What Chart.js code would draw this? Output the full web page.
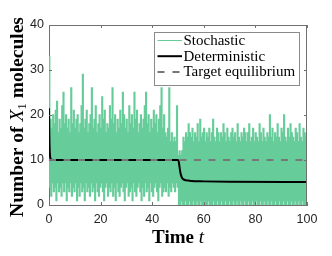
<!DOCTYPE html>
<html><head><meta charset="utf-8">
<script src="https://cdn.jsdelivr.net/npm/chart.js@4/dist/chart.umd.min.js"></script>
<style>html,body{margin:0;padding:0;background:#fff;}#wrap{width:332px;height:256px;position:relative;}</style>
</head><body><div id="wrap"><canvas id="c" width="332" height="256"></canvas></div>
<script>
// ---- data ----
const dtStoch = 0.25;
const stochFirstHalf = [
33,4, 19,2, 17,5, 20,3, 18,4, 21,1, 23,5, 16,3, 19,4, 17,2,
22,5, 25,3, 18,5, 20,1, 17,4, 19,3, 16,5, 26,2, 18,4, 21,3,
17,5, 19,1, 20,4, 16,2, 18,5, 22,3, 29,4, 17,1, 19,5, 21,3,
16,4, 18,2, 20,5, 26,3, 17,4, 19,1, 22,5, 16,3, 18,2, 20,4,
17,5, 24,3, 19,1, 21,4, 16,5, 18,2, 17,4, 22,3, 19,5, 26,2,
18,4, 20,1, 16,5, 19,3, 17,2, 21,4, 18,5, 25,3, 20,1, 17,4,
19,5, 16,2, 22,3, 18,4, 20,1, 17,5, 25,3, 19,2, 21,4, 16,5,
18,3, 20,1, 17,4, 19,2, 22,5, 25,3, 18,4, 20,1, 16,5, 19,3,
17,2, 21,4, 18,5, 20,3, 16,1, 19,4, 22,5, 26,2, 17,3, 20,4,
16,3, 15,5, 17,2, 26,4, 14,3, 16,5, 14,4, 15,3, 14,5, 22,4
];
const stochSecondHalf = [
11,0, 12,0, 11,1, 12,0, 15,0, 14,1, 16,0, 15,0, 18,1, 16,0,
15,0, 17,1, 14,0, 16,0, 15,1, 18,0, 14,0, 19,1, 15,0, 16,0,
17,1, 14,0, 16,0, 15,1, 17,0, 14,0, 16,0, 19,1, 15,0, 14,0,
17,1, 16,0, 14,0, 16,1, 15,0, 18,0, 16,1, 14,0, 17,0, 15,1,
14,0, 16,0, 17,1, 15,0, 16,0, 14,1, 18,0, 15,0, 14,1, 16,0,
15,0, 17,1, 16,0, 14,0, 16,1, 18,0, 14,0, 15,1, 17,0, 14,0,
16,1, 15,0, 14,0, 18,1, 16,0, 14,0, 17,1, 15,0, 14,0, 16,1,
15,0, 20,0, 15,1, 17,0, 14,0, 16,1, 15,0, 18,0, 15,1, 14,0,
17,0, 16,1, 20,0, 15,0, 14,1, 17,0, 15,0, 18,1, 16,0, 15,0,
14,1, 17,0, 16,0, 14,1, 18,0, 15,0, 14,1, 17,0, 16,0, 15,1,
6
];
const detTimes  = [0,0.1,0.2,0.35,0.6,1,2,50,50.3,50.6,51,51.5,52,53,55,60,70,100];
const detValues = [21.5,17,13.5,11.2,10.3,10.05,10,10,9.6,8.4,7.0,6.1,5.75,5.5,5.35,5.25,5.15,5.1];
const targetTimes  = [0,100];
const targetValues = [10,10];
const xTickValues = [0,20,40,60,80,100];
const yTickValues = [0,10,20,30,40];
const seriesLabels = ['Stochastic','Deterministic','Target equilibrium'];

// ---- build ----
const stochAll = stochFirstHalf.concat(stochSecondHalf);
const stochPts = stochAll.map((v,i)=>({x:i*dtStoch,y:v}));
const detPts = detTimes.map((t,i)=>({x:t,y:detValues[i]}));
const tgtPts = targetTimes.map((t,i)=>({x:t,y:targetValues[i]}));

const GREEN='rgb(102,204,153)', GRAY='#777777', AXIS='#707070';
const tickFont={family:"'Liberation Sans', Arial, sans-serif", size:12.5};
const serif="'Liberation Serif', 'Times New Roman', serif";

function drawRich(ctx, parts, x, y, align){
  let total=0;
  parts.forEach(p=>{ctx.font=p.f; p.w=ctx.measureText(p.t).width; total+=p.w;});
  let cx = align==='center'? x-total/2 : x;
  parts.forEach(p=>{ctx.font=p.f; ctx.fillText(p.t, cx, y+(p.dy||0)); cx+=p.w;});
}

const framePlugin = {
  id:'frame',
  afterDatasetsDraw(chart){
    const {ctx, chartArea:{left,right,top,bottom}, scales:{x,y}} = chart;
    ctx.save();
    ctx.strokeStyle=AXIS; ctx.lineWidth=1;
    ctx.beginPath();
    ctx.moveTo(left, top+0.5); ctx.lineTo(right, top+0.5);
    ctx.moveTo(right-0.5, top); ctx.lineTo(right-0.5, bottom);
    xTickValues.forEach(v=>{const p=Math.round(x.getPixelForValue(v))+0.5;
      ctx.moveTo(p,bottom); ctx.lineTo(p,bottom-3); ctx.moveTo(p,top); ctx.lineTo(p,top+3);});
    yTickValues.forEach(v=>{const p=Math.round(y.getPixelForValue(v))+0.5;
      ctx.moveTo(left,p); ctx.lineTo(left+3,p); ctx.moveTo(right,p); ctx.lineTo(right-3,p);});
    ctx.stroke();
    ctx.restore();
  },
  afterDraw(chart){
    const {ctx, chartArea:{left,right,top,bottom}} = chart;
    ctx.save();
    // legend
    const lx=154.5, ly=32.5, lw=145, lh=53;
    ctx.fillStyle='#fff'; ctx.fillRect(lx,ly,lw,lh);
    ctx.strokeStyle='#8a8a8a'; ctx.lineWidth=1; ctx.strokeRect(lx,ly,lw,lh);
    chart.data.datasets.forEach((ds,i)=>{
      const yy = 40.5 + i*15.7;
      ctx.beginPath();
      ctx.strokeStyle=ds.borderColor; ctx.lineWidth=ds.borderWidth>1.7?2:1;
      ctx.setLineDash(ds.borderDash? [7,8]:[]);
      ctx.moveTo(157.5,yy); ctx.lineTo(182,yy); ctx.stroke();
      ctx.setLineDash([]);
      ctx.fillStyle='#000'; ctx.textBaseline='middle'; ctx.textAlign='left';
      ctx.font="15px "+serif;
      ctx.fillText(ds.label, 183.5, yy+0.5);
    });
    // axis titles
    ctx.fillStyle='#000'; ctx.textBaseline='alphabetic'; ctx.textAlign='left';
    drawRich(ctx,[{t:'Time ',f:'bold 19px '+serif},{t:'t',f:'italic 19px '+serif}], (left+right)/2, 243, 'center');
    ctx.translate(23,(top+bottom)/2 + 2); ctx.rotate(-Math.PI/2);
    drawRich(ctx,[{t:'Number of ',f:'bold 19.5px '+serif},{t:'X',f:'italic 19.5px '+serif},
      {t:'1',f:'13px '+serif,dy:3},{t:' molecules',f:'bold 19.5px '+serif}],0,0,'center');
    ctx.restore();
  }
};

new Chart(document.getElementById('c'),{
  type:'line',
  data:{datasets:[
    {label:seriesLabels[0], data:stochPts, borderColor:GREEN, borderWidth:1.5, stepped:true, pointRadius:0, order:3},
    {label:seriesLabels[1], data:detPts, borderColor:'#000', borderWidth:2, pointRadius:0, cubicInterpolationMode:'monotone', order:2},
    {label:seriesLabels[2], data:tgtPts, borderColor:GRAY, borderWidth:2, borderDash:[7,7.5], pointRadius:0, order:1}
  ]},
  options:{
    responsive:false, animation:false, devicePixelRatio:1,
    layout:{padding:{left:0,top:25,right:25,bottom:0}},
    plugins:{legend:{display:false}, tooltip:{enabled:false}},
    scales:{
      x:{type:'linear', min:0, max:100,
        afterBuildTicks:s=>{s.ticks=xTickValues.map(v=>({value:v}));},
        afterFit:s=>{s.height=51;},
        grid:{display:false, drawTicks:false}, border:{display:true,color:AXIS,width:1},
        ticks:{font:tickFont,color:'#262626',padding:7,maxRotation:0}},
      y:{type:'linear', min:0, max:40,
        afterBuildTicks:s=>{s.ticks=yTickValues.map(v=>({value:v}));},
        afterFit:s=>{s.width=49;},
        grid:{display:false, drawTicks:false}, border:{display:true,color:AXIS,width:1},
        ticks:{font:tickFont,color:'#262626',padding:5}}
    }
  },
  plugins:[framePlugin]
});
</script></body></html>
